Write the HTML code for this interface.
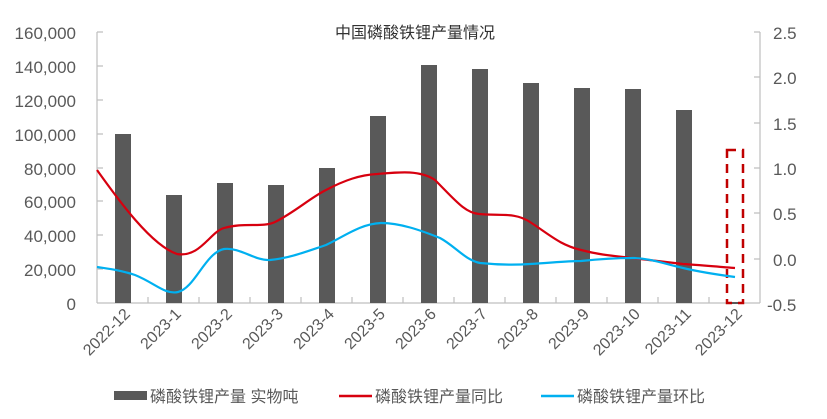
<!DOCTYPE html>
<html><head><meta charset="utf-8"><style>
body{margin:0;background:#fff}
svg{font-family:"Liberation Sans","Noto Sans CJK SC",sans-serif}
</style></head><body>
<svg width="827" height="414" viewBox="0 0 827 414" xmlns="http://www.w3.org/2000/svg">
<rect width="827" height="414" fill="#fff"/>
<text x="415" y="38" font-size="16" fill="#333" text-anchor="middle">中国磷酸铁锂产量情况</text>
<g font-size="17" fill="#595959" text-anchor="end">
<text x="76" y="39">160,000</text><text x="76" y="73">140,000</text><text x="76" y="107">120,000</text>
<text x="76" y="141">100,000</text><text x="76" y="175">80,000</text><text x="76" y="208">60,000</text>
<text x="76" y="242">40,000</text><text x="76" y="276">20,000</text><text x="76" y="310">0</text>
</g>
<g font-size="17" fill="#595959">
<text x="773" y="39">2.5</text><text x="773" y="84">2.0</text><text x="773" y="130">1.5</text>
<text x="773" y="175">1.0</text><text x="773" y="220">0.5</text><text x="773" y="266">0.0</text>
<text x="767" y="311">-0.5</text>
</g>
<g stroke="#bfbfbf" stroke-width="1.2" fill="none">
<line x1="97" y1="32" x2="97" y2="303"/>
<line x1="760" y1="32" x2="760" y2="303"/>
<line x1="97" y1="303" x2="760" y2="303"/>
<path d="M97 32h6M97 66h6M97 100h6M97 134h6M97 168h6M97 201h6M97 235h6M97 269h6"/>
<path d="M760 32h-6M760 77h-6M760 123h-6M760 168h-6M760 213h-6M760 259h-6"/>
<path d="M148 303v-6M199 303v-6M250 303v-6M301 303v-6M352 303v-6M403 303v-6M454 303v-6M505 303v-6M556 303v-6M607 303v-6M658 303v-6M709 303v-6"/>
</g>
<g fill="#595959">
<rect x="115" y="134" width="16" height="169"/>
<rect x="166" y="195" width="16" height="108"/>
<rect x="217" y="183" width="16" height="120"/>
<rect x="268" y="185" width="16" height="118"/>
<rect x="319" y="168" width="16" height="135"/>
<rect x="370" y="116" width="16" height="187"/>
<rect x="421" y="65" width="16" height="238"/>
<rect x="472" y="69" width="16" height="234"/>
<rect x="523" y="83" width="16" height="220"/>
<rect x="574" y="88" width="16" height="215"/>
<rect x="625" y="89" width="16" height="214"/>
<rect x="676" y="110" width="16" height="193"/>
<rect x="727" y="302" width="16" height="2"/>
</g>
<rect x="727" y="150" width="16" height="153" fill="none" stroke="#c00000" stroke-width="2.5" stroke-dasharray="9,6"/>
<path d="M97 170 C115 195,150 245,177 254 C200 258,210 232,224 228 C245 222,262 228,275 222 C295 212,310 198,326 190 C345 180,360 175,377 174 C400 172,420 170,435 180 C455 200,465 213,479 214 C500 216,515 212,530 222 C550 235,560 245,581 250 C600 255,615 256,632 258 C650 260,665 262,683 264 C700 265,720 267,735 268" fill="none" stroke="#d7000f" stroke-width="2.2"/>
<path d="M97 267 C110 269,120 270,135 275 C155 283,165 295,178 292 C195 288,205 253,224 249 C240 247,255 261,270 260 C290 258,305 252,326 245 C345 236,360 224,381 223 C400 223,420 230,440 238 C455 246,465 260,480 263 C500 265,515 265,530 264 C550 263,565 261,581 261 C600 259,615 258,632 258 C650 258,665 264,683 268 C700 272,720 275,735 277" fill="none" stroke="#00b0f0" stroke-width="2.2"/>
<g font-size="16" fill="#595959" text-anchor="end">
<text transform="translate(131,315) rotate(-45)">2022-12</text>
<text transform="translate(182,315) rotate(-45)">2023-1</text>
<text transform="translate(233,315) rotate(-45)">2023-2</text>
<text transform="translate(284,315) rotate(-45)">2023-3</text>
<text transform="translate(335,315) rotate(-45)">2023-4</text>
<text transform="translate(386,315) rotate(-45)">2023-5</text>
<text transform="translate(437,315) rotate(-45)">2023-6</text>
<text transform="translate(488,315) rotate(-45)">2023-7</text>
<text transform="translate(539,315) rotate(-45)">2023-8</text>
<text transform="translate(590,315) rotate(-45)">2023-9</text>
<text transform="translate(641,315) rotate(-45)">2023-10</text>
<text transform="translate(692,315) rotate(-45)">2023-11</text>
<text transform="translate(743,315) rotate(-45)">2023-12</text>
</g>
<rect x="114" y="391" width="33" height="9" fill="#595959"/>
<line x1="339" y1="396" x2="372" y2="396" stroke="#d7000f" stroke-width="2.5"/>
<line x1="541" y1="396" x2="574" y2="396" stroke="#00b0f0" stroke-width="2.5"/>
<g font-size="16" fill="#595959">
<text x="150" y="402">磷酸铁锂产量 实物吨</text>
<text x="375" y="402">磷酸铁锂产量同比</text>
<text x="577" y="402">磷酸铁锂产量环比</text>
</g>
</svg>
</body></html>
